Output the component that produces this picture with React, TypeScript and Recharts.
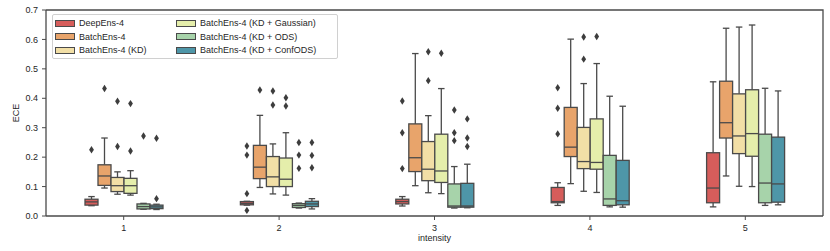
import { Bar, BarChart, XAxis, YAxis } from 'recharts'

const intensities = ['1', '2', '3', '4', '5']
const seriesNames = [
  'DeepEns-4',
  'BatchEns-4',
  'BatchEns-4 (KD)',
  'BatchEns-4 (KD + Gaussian)',
  'BatchEns-4 (KD + ODS)',
  'BatchEns-4 (KD + ConfODS)'
]
const seriesColors = ['#d65d5b', '#e8a46b', '#f2dfa6', '#e5eeab', '#a7d3aa', '#4e96a8']

// [lower whisker, q1, median, q3, upper whisker] for each intensity
const deepEns = [
  [0.035, 0.037, 0.048, 0.057, 0.066],
  [0.037, 0.038, 0.043, 0.049, 0.05],
  [0.034, 0.041, 0.049, 0.057, 0.066],
  [0.036, 0.045, 0.049, 0.097, 0.113],
  [0.031, 0.045, 0.095, 0.215, 0.456]
]
const batchEns = [
  [0.095, 0.104, 0.136, 0.174, 0.265],
  [0.097, 0.127, 0.166, 0.24, 0.342],
  [0.103, 0.151, 0.198, 0.313, 0.552],
  [0.11, 0.202, 0.234, 0.369, 0.601],
  [0.136, 0.265, 0.317, 0.458, 0.638]
]
const batchKD = [
  [0.074, 0.083, 0.103, 0.131, 0.15],
  [0.075, 0.1, 0.133, 0.202, 0.245],
  [0.079, 0.12, 0.159, 0.253, 0.341],
  [0.084, 0.161, 0.185, 0.301, 0.45],
  [0.101, 0.212, 0.272, 0.415, 0.642]
]
const batchGauss = [
  [0.071, 0.077, 0.103, 0.128, 0.154],
  [0.071, 0.1, 0.125, 0.197, 0.283],
  [0.076, 0.114, 0.153, 0.278, 0.433],
  [0.08, 0.159, 0.182, 0.33, 0.518],
  [0.1, 0.203, 0.28, 0.429, 0.649]
]
const batchODS = [
  [0.023, 0.024, 0.032, 0.041, 0.043],
  [0.027, 0.029, 0.036, 0.042, 0.044],
  [0.027, 0.03, 0.034, 0.109, 0.168],
  [0.031, 0.036, 0.058, 0.206, 0.407],
  [0.036, 0.045, 0.112, 0.278, 0.434]
]
const batchConfODS = [
  [0.022, 0.025, 0.031, 0.037, 0.04],
  [0.024, 0.032, 0.041, 0.05, 0.059],
  [0.028, 0.03, 0.034, 0.111, 0.176],
  [0.03, 0.038, 0.052, 0.189, 0.373],
  [0.038, 0.047, 0.109, 0.268, 0.425]
]

// outliers for each intensity
const deepEnsOut = [[0.225], [0.238, 0.207, 0.076, 0.019], [0.391, 0.283, 0.161], [0.436, 0.366, 0.279], []]
const batchEnsOut = [[0.433], [0.428], [], [], []]
const batchKDOut = [[0.39, 0.236], [0.425, 0.377], [0.558, 0.46], [0.608, 0.533], []]
const batchGaussOut = [[0.382, 0.221], [0.402, 0.374], [0.553], [0.61], []]
const batchODSOut = [[0.272], [0.25, 0.207, 0.162], [0.36, 0.283, 0.256], [], []]
const batchConfODSOut = [[0.264, 0.059], [0.25, 0.206, 0.164], [0.33, 0.265, 0.236], [], []]

const allStats = [deepEns, batchEns, batchKD, batchGauss, batchODS, batchConfODS]
const allOutliers = [deepEnsOut, batchEnsOut, batchKDOut, batchGaussOut, batchODSOut, batchConfODSOut]

const yTicks = [0, 0.1, 0.2, 0.3, 0.4, 0.5, 0.6, 0.7]

const LINE = '#4a4a4a'
const FONT = '"Liberation Sans", Arial, sans-serif'
const TEXT = '#262626'

// chart box
const W = 830
const H = 251
const MARGIN = { top: 10, right: 7, left: 6, bottom: 5 }
const Y_AXIS_W = 40
const X_AXIS_H = 30
const PLOT_LEFT = MARGIN.left + Y_AXIS_W
const PLOT_RIGHT = W - MARGIN.right

// each bar spans the whisker range; the box parts are placed on the same scale
const chartData = intensities.map((label, i) => {
  const row: Record<string, unknown> = { intensity: label }
  allStats.forEach((stats, s) => {
    row[`s${s}`] = [stats[i][0], stats[i][4]]
    row[`st${s}`] = stats[i]
    row[`o${s}`] = allOutliers[s][i]
  })
  return row
})

function BoxShape(props: any) {
  const { x, y, width, height, payload, si, background } = props
  const [lo, q1, med, q3, hi] = payload[`st${si}`] as number[]
  const outliers = payload[`o${si}`] as number[]
  const ppu = height / (hi - lo)
  const py = (v: number) => y + (hi - v) * ppu
  const cx = x + width / 2
  const cap = width / 4
  // the first box also draws the top and right spines of the plot area
  const drawFrame = si === 0 && payload.intensity === intensities[0]
  const frameTop = background ? background.y : MARGIN.top
  const frameBottom = background ? background.y + background.height : H - MARGIN.bottom - X_AXIS_H
  return (
    <g>
      {drawFrame && (
        <polyline
          points={`${PLOT_LEFT},${frameTop} ${PLOT_RIGHT},${frameTop} ${PLOT_RIGHT},${frameBottom}`}
          fill="none"
          stroke={LINE}
          strokeWidth={1.3}
        />
      )}
      <line x1={cx} x2={cx} y1={py(hi)} y2={py(q3)} stroke={LINE} strokeWidth={1.3} />
      <line x1={cx} x2={cx} y1={py(q1)} y2={py(lo)} stroke={LINE} strokeWidth={1.3} />
      <line x1={cx - cap} x2={cx + cap} y1={py(hi)} y2={py(hi)} stroke={LINE} strokeWidth={1.3} />
      <line x1={cx - cap} x2={cx + cap} y1={py(lo)} y2={py(lo)} stroke={LINE} strokeWidth={1.3} />
      <rect
        x={x}
        y={py(q3)}
        width={width}
        height={py(q1) - py(q3)}
        fill={seriesColors[si]}
        stroke={LINE}
        strokeWidth={1.3}
      />
      <line x1={x} x2={x + width} y1={py(med)} y2={py(med)} stroke={LINE} strokeWidth={1.3} />
      {outliers.map((v, k) => {
        const oy = py(v)
        return (
          <path
            key={k}
            d={`M${cx},${oy - 3.7}L${cx + 2.4},${oy}L${cx},${oy + 3.7}L${cx - 2.4},${oy}Z`}
            fill="#3d3d3d"
          />
        )
      })}
    </g>
  )
}

function LegendBox() {
  return (
    <div
      style={{
        position: 'absolute',
        left: 52,
        top: 14,
        width: 284,
        height: 43,
        border: '1px solid #d0d0d0',
        borderRadius: 2,
        background: 'rgba(255,255,255,0.85)',
        fontFamily: FONT,
        fontSize: 9,
        color: TEXT
      }}
    >
      {seriesNames.map((name, i) => {
        const col = Math.floor(i / 3)
        const row = i % 3
        const left = col === 0 ? 2 : 123
        return (
          <div
            key={name}
            style={{ position: 'absolute', left, top: 2 + row * 13.6, height: 12, display: 'flex', alignItems: 'center' }}
          >
            <span
              style={{
                display: 'inline-block',
                width: 18,
                height: 5,
                background: seriesColors[i],
                border: `1px solid ${LINE}`,
                marginRight: 4
              }}
            />
            <span style={{ whiteSpace: 'nowrap' }}>{name}</span>
          </div>
        )
      })}
    </div>
  )
}

export default function App() {
  return (
    <div style={{ position: 'absolute', left: 0, top: 0, width: W, height: H, background: '#fff' }}>
      <BarChart
        width={W}
        height={H}
        data={chartData}
        margin={MARGIN}
        barCategoryGap="25%"
        barGap={0}
        barSize={13}
      >
        <XAxis
          dataKey="intensity"
          height={X_AXIS_H}
          tickSize={4}
          tickMargin={5}
          tick={{ fontSize: 9, fill: TEXT, fontFamily: FONT }}
          tickLine={{ stroke: LINE }}
          axisLine={{ stroke: LINE, strokeWidth: 1.3 }}
          label={{ value: 'intensity', position: 'insideBottom', offset: 5, fontSize: 9, fill: TEXT, fontFamily: FONT }}
        />
        <YAxis
          type="number"
          domain={[0, 0.7]}
          ticks={yTicks}
          width={Y_AXIS_W}
          tickSize={4}
          tickMargin={4}
          tickFormatter={(v: number) => v.toFixed(1)}
          tick={{ fontSize: 9, fill: TEXT, fontFamily: FONT }}
          tickLine={{ stroke: LINE }}
          axisLine={{ stroke: LINE, strokeWidth: 1.3 }}
          label={{
            content: () => (
              <text
                x={16}
                y={113}
                transform="rotate(-90 16 113)"
                textAnchor="middle"
                dominantBaseline="central"
                fontSize={9}
                fill={TEXT}
                fontFamily={FONT}
              >
                ECE
              </text>
            )
          }}
        />
        {seriesNames.map((name, i) => (
          <Bar
            key={name}
            name={name}
            dataKey={`s${i}`}
            fill={seriesColors[i]}
            isAnimationActive={false}
            shape={(p: any) => <BoxShape {...p} si={i} />}
          />
        ))}
      </BarChart>
      <LegendBox />
    </div>
  )
}
